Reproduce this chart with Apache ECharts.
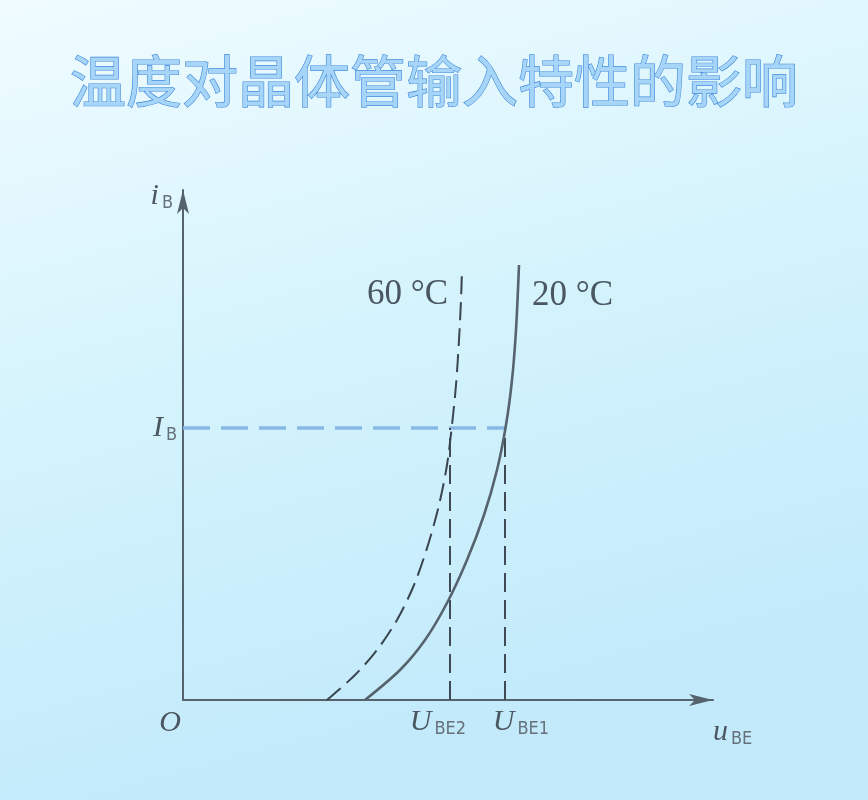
<!DOCTYPE html>
<html>
<head>
<meta charset="utf-8">
<script src="https://cdn.jsdelivr.net/npm/echarts@6/dist/echarts.min.js"></script>
<style>
html,body{margin:0;padding:0;}
#chart{width:868px;height:800px;}
</style>
</head>
<body>
<div id="chart"></div>
<script>
// ---- data (arbitrary units) ----
var titleText = '温度对晶体管输入特性的影响';
var curve60 = [[144,0],[172,25],[194,50],[214,80],[231,115],[245,155],[256,195],[264,235],[269,275],[273,315],[276,360],[278,400],[279,432]];
var curve20 = [[182,0],[217,30],[242,60],[264,97],[284,140],[301,185],[314,230],[323,275],[329,320],[333,370],[336,435]];
var IB = 272;
var UBE2 = 267;
var UBE1 = 322;
var xMax = 530;
var yMax = 510;
var label60 = '60 °C';
var label20 = '20 °C';

var chart = echarts.init(document.getElementById('chart'), null, {renderer:'canvas'});
var serif = '"Liberation Serif","DejaVu Serif",serif';
var sub = {fontFamily:'"DejaVu Sans Condensed","Liberation Sans Narrow",sans-serif', fontSize:18, color:'#66717a', padding:[14,0,0,3]};
var ital = {fontFamily:serif, fontStyle:'italic', fontSize:30, color:'#4b5660'};

function footLabel(text, dx){
  return {
    symbol:'rect', symbolSize:1, silent:true,
    itemStyle:{color:'rgba(0,0,0,0)'},
    label:{show:true, position:'bottom', distance:6, offset:[dx,0], formatter:text,
      rich:{i:ital, s:sub}}
  };
}

var option = {
  backgroundColor: new echarts.graphic.LinearGradient(0,0,0.25,1,[
    {offset:0,color:'#f0fcff'},{offset:0.5,color:'#d4f3fc'},{offset:1,color:'#c2eafb'}]),
  animation:false,
  title:{
    text:titleText, left:'center', top:48,
    textStyle:{fontFamily:'"Noto Sans CJK SC",sans-serif', fontSize:56, fontWeight:'normal',
      color:'#a6d5f7', textBorderColor:'#3f88dc', textBorderWidth:1.2}
  },
  grid:{left:183, right:155, top:190, bottom:100, containLabel:false},
  xAxis:{
    type:'value', min:0, max:xMax,
    splitLine:{show:false},
    axisTick:{show:false},
    axisLine:{show:true, onZero:false, symbol:['none','arrow'], symbolSize:[9,24],
      lineStyle:{color:'#56636e', width:2}},
    axisLabel:{show:true, customValues:[0], margin:8,
      formatter:function(){ return '{i|O}{gap|}'; },
      rich:{i:ital, gap:{width:26}}},
    name:'{i|u}{s|BE}', nameLocation:'end', nameGap:0,
    nameTextStyle:{align:'left', verticalAlign:'top', padding:[16,0,0,0], rich:{i:ital, s:sub}}
  },
  yAxis:{
    type:'value', min:0, max:yMax,
    splitLine:{show:false},
    axisTick:{show:false},
    axisLine:{show:true, onZero:false, symbol:['none','arrow'], symbolSize:[9,24],
      lineStyle:{color:'#56636e', width:2}},
    axisLabel:{show:true, customValues:[IB], margin:6,
      formatter:function(){return '{i|I}{s|B}';},
      rich:{i:ital, s:sub}},
    name:'{i|i}{s|B}', nameLocation:'end', nameGap:10,
    nameTextStyle:{align:'right', verticalAlign:'top', padding:[0,10,0,0], rich:{i:ital, s:sub}}
  },
  series:[
    {
      name:'IB', type:'line', symbol:'none', silent:true,
      data:[[0,IB],[UBE1,IB]],
      lineStyle:{color:'#88b9e4', width:3.5, type:[27,11]}
    },
    {
      name:'UBE2', type:'line', symbol:'none', silent:true,
      data:[[UBE2,0],[UBE2,IB]],
      lineStyle:{color:'#3f4a54', width:2, type:[19,8]},
      markPoint:Object.assign(footLabel('{i|U}{s|BE2}', -12), {data:[{coord:[UBE2,0]}]})
    },
    {
      name:'UBE1', type:'line', symbol:'none', silent:true,
      data:[[UBE1,0],[UBE1,IB]],
      lineStyle:{color:'#3f4a54', width:2, type:[19,8]},
      markPoint:Object.assign(footLabel('{i|U}{s|BE1}', 16), {data:[{coord:[UBE1,0]}]})
    },
    {
      name:'60°C', type:'line', symbol:'none', smooth:0.3,
      data:curve60,
      lineStyle:{color:'#3a4550', width:2, type:[18,8]},
      endLabel:{show:true, formatter:label60, align:'right', offset:[-22,27],
        fontFamily:serif, fontSize:35, color:'#4a5660'}
    },
    {
      name:'20°C', type:'line', symbol:'none', smooth:0.3,
      data:curve20,
      lineStyle:{color:'#56636e', width:2.6},
      endLabel:{show:true, formatter:label20, align:'left', offset:[5,31],
        fontFamily:serif, fontSize:35, color:'#4a5660'}
    }
  ]
};
chart.setOption(option);
</script>
</body>
</html>
